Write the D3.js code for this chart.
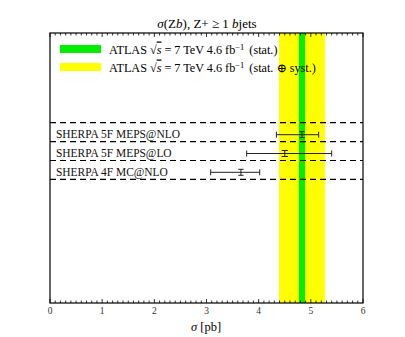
<!DOCTYPE html>
<html><head><meta charset="utf-8">
<script src="https://cdn.jsdelivr.net/npm/d3@7"></script>
<style>body{margin:0;background:#fff}svg{display:block}text{font-family:"Liberation Serif","DejaVu Serif",serif}</style>
</head><body><svg id="c" width="405" height="337"></svg>
<script>
const models = ["SHERPA 5F MEPS@NLO","SHERPA 5F MEPS@LO","SHERPA 4F MC@NLO"];
const central = [4.83, 4.50, 3.66];
const errLow = [4.34, 3.77, 3.08];
const errHigh = [5.15, 5.40, 4.02];
const statLow = [4.78, 4.44, 3.61];
const statHigh = [4.88, 4.56, 3.71];
const atlasCentral = 4.82;
const atlasStat = [4.77, 4.89];
const atlasTot = [4.39, 5.27];
const xTicks = [0,1,2,3,4,5,6];

const svg = d3.select("#c");
const L=50,R=363,T=33,B=303;
const x = d3.scaleLinear().domain([0,6]).range([L,R]);
const rowY = d3.scalePoint().domain(models).range([134.7,172.3]);

// bands
svg.append("rect").attr("x",x(atlasTot[0])).attr("width",x(atlasTot[1])-x(atlasTot[0]))
  .attr("y",T).attr("height",B-T).attr("fill","#ffff00");
svg.append("rect").attr("x",x(atlasStat[0])).attr("width",x(atlasStat[1])-x(atlasStat[0]))
  .attr("y",T).attr("height",B-T).attr("fill","#00ee00");

// dashed separators
const seps = [rowY(models[0])-12].concat(models.map(m=>rowY(m)+7));
svg.selectAll("line.sep").data(seps).enter().append("line")
  .attr("x1",L).attr("x2",R).attr("y1",d=>d).attr("y2",d=>d)
  .attr("stroke","#000").attr("stroke-width",1.2).attr("stroke-dasharray","6,4");

// labels (size chosen so the first label spans ~124px like the reference)
const labs = svg.selectAll("text.lab").data(models).enter().append("text")
  .attr("class","lab")
  .attr("x",56).attr("y",d=>rowY(d)+3.5).attr("font-size",10).attr("fill","#111")
  .text(d=>d);
const w0 = labs.node().getComputedTextLength();
labs.attr("font-size", Math.min(12.5, 10*124/w0));

// error bars
models.forEach((m,i)=>{
  const y=rowY(m);
  const g=svg.append("g").attr("stroke","#222").attr("stroke-width",1);
  g.append("line").attr("x1",x(errLow[i])).attr("x2",x(errHigh[i])).attr("y1",y).attr("y2",y);
  [errLow[i],errHigh[i]].forEach(v=>g.append("line").attr("x1",x(v)).attr("x2",x(v)).attr("y1",y-3).attr("y2",y+3));
  g.append("line").attr("x1",x(central[i])).attr("x2",x(central[i])).attr("y1",y-3).attr("y2",y+3);
  [y-3,y+3].forEach(yy=>g.append("line").attr("x1",x(statLow[i])).attr("x2",x(statHigh[i])).attr("y1",yy).attr("y2",yy));
});

// frame
svg.append("rect").attr("x",L).attr("y",T).attr("width",R-L).attr("height",B-T)
  .attr("fill","none").attr("stroke","#000").attr("stroke-width",1.2);

// ticks
const minor = d3.range(0,60.5,1).map(d=>d/10);
const tg = svg.append("g").attr("stroke","#000").attr("stroke-width",0.8);
minor.forEach(v=>{
  const len = Math.abs(v-Math.round(v))<1e-6 ? 4 : 2.5;
  tg.append("line").attr("x1",x(v)).attr("x2",x(v)).attr("y1",B).attr("y2",B-len);
  tg.append("line").attr("x1",x(v)).attr("x2",x(v)).attr("y1",T).attr("y2",T+len);
});
svg.selectAll("text.tick").data(xTicks).enter().append("text")
  .attr("x",d=>x(d)).attr("y",314).attr("text-anchor","middle").attr("font-size",9.5).attr("fill","#333")
  .text(d=>d);

// axis label
const xl = svg.append("text").attr("x",206).attr("y",331).attr("text-anchor","middle").attr("font-size",12.5);
xl.append("tspan").attr("font-style","italic").text("σ");
xl.append("tspan").text(" [pb]");

// title (fit to ~107px like the reference)
const tt = svg.append("text").attr("x",207).attr("y",28).attr("text-anchor","middle").attr("font-size",12);
tt.append("tspan").attr("font-style","italic").text("σ");
tt.append("tspan").text("(Z");
tt.append("tspan").attr("font-style","italic").text("b");
tt.append("tspan").text("), Z+ ≥ 1 ");
tt.append("tspan").attr("font-style","italic").text("b");
tt.append("tspan").text("jets");
const wt = tt.node().getBBox().width;
tt.attr("font-size", Math.max(10.5, Math.min(13, 12*107/wt)));

// legend
const leg = [{c:"#00ee00",t:"(stat.)",y:45},{c:"#ffff00",t:"(stat. ⊕ syst.)",y:63}];
leg.forEach(d=>{
  svg.append("rect").attr("x",60).attr("y",d.y).attr("width",41).attr("height",8).attr("fill",d.c);
  const t=svg.append("text").attr("x",109).attr("y",d.y+8.5).attr("font-size",12.2);
  t.append("tspan").text("ATLAS √");
  t.append("tspan").attr("font-style","italic").attr("text-decoration","overline").text("s");
  t.append("tspan").attr("dx",3).text("=");
  t.append("tspan").attr("dx",3).text("7 TeV 4.6 fb");
  t.append("tspan").attr("dy",-4).attr("font-size",8.5).text("−1");
  t.append("tspan").attr("dy",4).attr("dx",2).text(" "+d.t);
});
</script></body></html>
